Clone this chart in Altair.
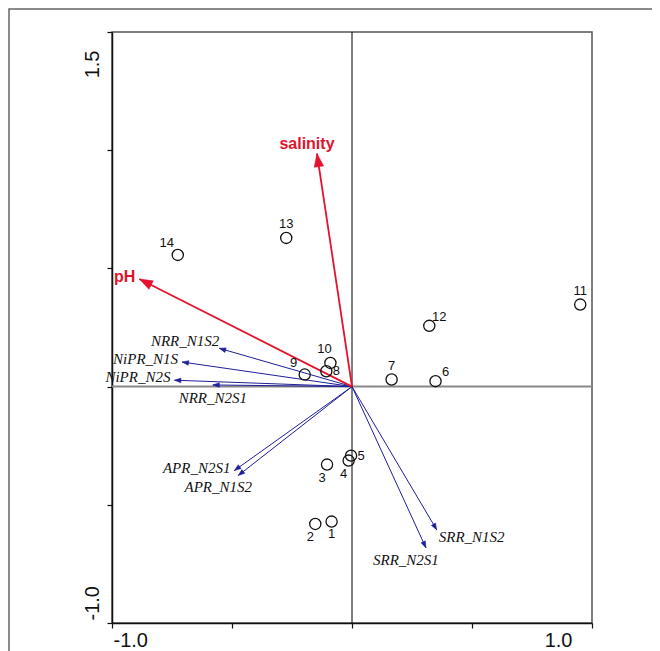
import altair as alt
import pandas as pd

# ---------------- data ----------------
site_ids = [str(i) for i in range(1, 15)]
site_x = [-0.085, -0.153, -0.104, -0.014, -0.004, 0.348, 0.165, -0.107, -0.197, -0.090, 0.951, 0.322, -0.274, -0.726]
site_y = [-0.571, -0.581, -0.330, -0.313, -0.292, 0.023, 0.030, 0.065, 0.051, 0.100, 0.347, 0.257, 0.629, 0.557]
site_place = ["below", "below-left", "below-left", "below-left", "right", "upper-right", "above",
              "right", "upper-left", "above-left", "above", "upper-right", "above", "upper-left"]

species_names = ["NRR_N1S2", "NiPR_N1S", "NiPR_N2S", "NRR_N2S1", "APR_N2S1", "APR_N1S2", "SRR_N1S2", "SRR_N2S1"]
species_x = [-0.553, -0.708, -0.740, -0.580, -0.490, -0.474, 0.353, 0.308]
species_y = [0.162, 0.104, 0.027, 0.007, -0.355, -0.376, -0.606, -0.682]
species_place = ["left-up", "left", "left", "below", "left", "below-left", "right-below", "below-left"]

env_names = ["pH", "salinity"]
env_x = [-0.886, -0.146]
env_y = [0.455, 0.986]
env_place = ["left", "above-left"]

x_ticks = [-1.0, -0.5, 0.0, 0.5, 1.0]
y_ticks = [-1.0, -0.5, 0.0, 0.5, 1.0, 1.5]

# ---------------- styles ----------------
BLUE = "#1f1f99"
RED = "#e3132d"
SANS = "Liberation Sans"
SERIF = "Liberation Serif"
HEAD = "M0,0L0.36,1L-0.36,1Z"

SITE_PLACE = {
    "below": dict(dx=0, dy=12),
    "below-left": dict(dx=-5, dy=13),
    "right": dict(dx=10, dy=0),
    "upper-right": dict(dx=10, dy=-9),
    "above": dict(dx=0, dy=-14),
    "above-left": dict(dx=-6, dy=-14),
    "upper-left": dict(dx=-11, dy=-12),
}
SPECIES_PLACE = {
    "left-up": dict(align="right", dx=0, dy=-7),
    "left": dict(align="right", dx=-4, dy=-3),
    "below": dict(align="center", dx=0, dy=13),
    "below-left": dict(align="center", dx=-20, dy=12),
    "right-below": dict(align="left", dx=2, dy=7),
}
ENV_PLACE = {
    "left": dict(align="right", dx=-4, dy=-2),
    "above-left": dict(align="center", dx=-10, dy=-10),
}

sites = pd.DataFrame({"id": site_ids, "x": site_x, "y": site_y, "place": site_place})
species = pd.DataFrame({"name": species_names, "x": species_x, "y": species_y, "place": species_place})
env = pd.DataFrame({"name": env_names, "x": env_x, "y": env_y, "place": env_place})
zero = pd.DataFrame({"z": [0.0]})

XS = alt.Scale(domain=[-1.0, 1.0], nice=False, zero=False)
YS = alt.Scale(domain=[-1.0, 1.5], nice=False, zero=False)

XAX = alt.Axis(
    values=x_ticks, title=None, grid=False,
    labelExpr="datum.value == -1 ? '-1.0' : (datum.value == 1 ? '1.0' : '')",
    labelFont=SANS, labelFontSize=20, labelColor="#111",
    labelAlign={"condition": {"test": "datum.value < 0", "value": "left"}, "value": "right"},
    labelOffset={"condition": {"test": "datum.value < 0", "value": 1}, "value": -20},
    labelPadding=2, tickSize=5, tickWidth=1.2, tickColor="#111",
    domainColor="#111", domainWidth=1.5, labelFlush=False, labelOverlap=False,
)
YAX = alt.Axis(
    values=y_ticks, title=None, grid=False,
    labelExpr="datum.value == -1 ? '-1.0' : (datum.value == 1.5 ? '1.5' : '')",
    labelFont=SANS, labelFontSize=20, labelColor="#111", labelAngle=270,
    labelBaseline="bottom",
    labelAlign={"condition": {"test": "datum.value < 0", "value": "left"}, "value": "right"},
    labelOffset={"condition": {"test": "datum.value < 0", "value": -3}, "value": 18},
    labelPadding=5, tickSize=5, tickWidth=1.2, tickColor="#111",
    domainColor="#111", domainWidth=1.5, labelFlush=False, labelOverlap=False,
)


def X(f):
    return alt.X(f, type="quantitative", scale=XS, axis=XAX)


def Y(f):
    return alt.Y(f, type="quantitative", scale=YS, axis=YAX)


# outer figure border
border = alt.Chart(zero).mark_rect(fill=None, stroke="#666", strokeWidth=1.5).encode(
    x=alt.value(-103), y=alt.value(-23), x2=alt.value(700), y2=alt.value(700)
)

vline = alt.Chart(zero).mark_rule(color="#000", strokeWidth=1).encode(x=X("z"))
hline = alt.Chart(zero).mark_rule(color="#888", strokeWidth=2).encode(y=Y("z"))


def arrows(df, color, width, head_size):
    base = alt.Chart(df).transform_calculate(
        x0="0", y0="0",
        ang="(atan2(datum.x, datum.y) * 180 / PI + 360) % 360",
    )
    line = base.mark_rule(color=color, strokeWidth=width).encode(
        x=X("x0"), y=Y("y0"), x2="x:Q", y2="y:Q"
    )
    head = base.mark_point(shape=HEAD, filled=True, fill=color, stroke=color, strokeWidth=0.5,
                           opacity=1, size=head_size).encode(
        x=X("x"), y=Y("y"), angle=alt.Angle("ang:Q", scale=None)
    )
    return [line, head]


def labels(df, field, places, **style):
    out = []
    for key, p in places.items():
        if key not in set(df["place"]):
            continue
        opts = dict(style)
        opts.update(p)
        opts.setdefault("align", "center")
        out.append(
            alt.Chart(df).transform_filter(alt.datum.place == key)
            .mark_text(baseline="middle", **opts)
            .encode(x=X("x"), y=Y("y"), text=f"{field}:N")
        )
    return out


layers = [border, hline, vline]
layers += arrows(species, BLUE, 1.0, 170)
layers += labels(species, "name", SPECIES_PLACE, font=SERIF, fontSize=15, fontStyle="italic", color="#111")
layers += arrows(env, RED, 1.8, 700)
layers += labels(env, "name", ENV_PLACE, font=SANS, fontSize=16, fontWeight="bold", color=RED)
layers.append(
    alt.Chart(sites).mark_point(shape="circle", filled=False, size=125, stroke="#111",
                                strokeWidth=1.3, opacity=1).encode(x=X("x"), y=Y("y"))
)
layers += labels(sites, "id", SITE_PLACE, font=SANS, fontSize=13, color="#111")

chart = alt.layer(*layers).properties(
    width=480, height=591,
    padding={"left": 104, "top": 24, "right": 60, "bottom": 36},
    autosize=alt.AutoSizeParams(type="none"),
    background="white",
).configure_view(stroke="#555", strokeWidth=1.5)

chart.save("out.html", embed_options={"renderer": "svg", "actions": False})
